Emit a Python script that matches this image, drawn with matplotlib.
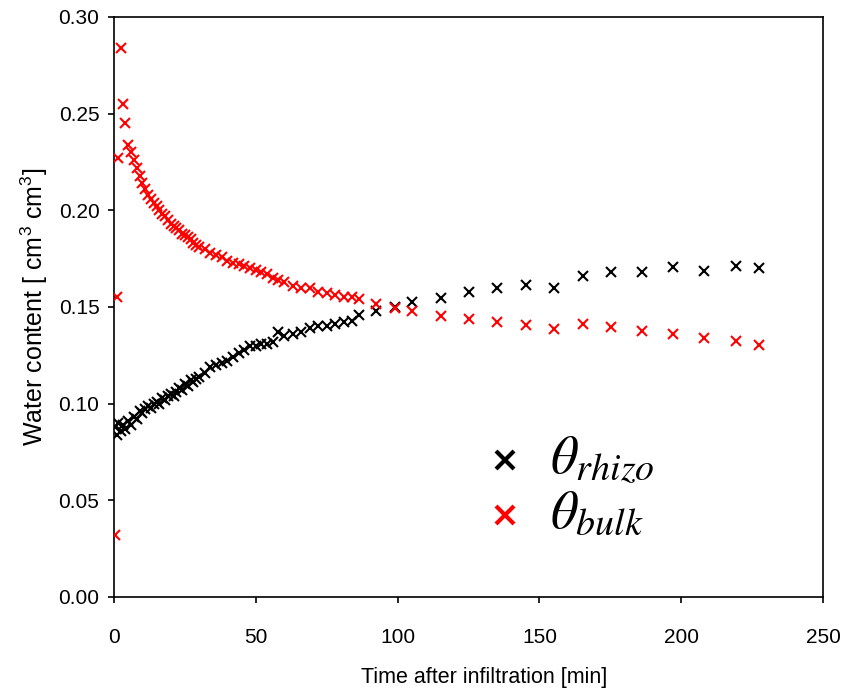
import matplotlib
matplotlib.use("Agg")
import matplotlib.pyplot as plt

plt.rcParams['font.family'] = ['Liberation Sans', 'DejaVu Sans']
plt.rcParams['mathtext.fontset'] = 'stix'

time_min = [0.5, 1, 1.5, 2.5, 3.3, 4, 5, 6, 7, 8, 9, 10, 11, 12, 13, 14, 15, 16, 17, 18,
            19, 20, 21, 22, 23, 24, 25, 26, 27, 28, 29, 30, 32, 34, 36, 38, 40, 42, 44, 46,
            48, 50, 52, 54, 56, 58, 60, 63, 66, 69, 72, 75, 78, 81, 84, 86.5,
            92.3, 99.1, 105.2, 115.2, 125.2, 135.2, 145.2, 155.1, 165.2, 175.2, 186.3,
            197.2, 208.1, 219.2, 227.3]

theta_bulk = [0.032, 0.155, 0.227, 0.284, 0.255, 0.245, 0.234, 0.230, 0.226, 0.222,
              0.218, 0.214, 0.211, 0.208, 0.206, 0.204, 0.202, 0.200, 0.198, 0.197,
              0.195, 0.193, 0.192, 0.191, 0.190, 0.188, 0.187, 0.186, 0.185, 0.183,
              0.182, 0.181, 0.180, 0.178, 0.177, 0.176, 0.174, 0.173, 0.172, 0.171,
              0.170, 0.169, 0.168, 0.167, 0.165, 0.164, 0.163, 0.161, 0.160, 0.160,
              0.158, 0.157, 0.156, 0.155, 0.155, 0.154,
              0.1514, 0.1497, 0.1481, 0.1453, 0.1438, 0.1424, 0.1405, 0.1385, 0.1414,
              0.1395, 0.1378, 0.1359, 0.1342, 0.1324, 0.1305]

theta_rhizo = [0.088, 0.084, 0.090, 0.086, 0.089, 0.087, 0.091, 0.089, 0.093, 0.092,
               0.096, 0.095, 0.097, 0.099, 0.098, 0.100, 0.101, 0.100, 0.103, 0.102,
               0.104, 0.105, 0.104, 0.106, 0.108, 0.107, 0.110, 0.109, 0.112, 0.111,
               0.113, 0.114, 0.116, 0.119, 0.120, 0.121, 0.122, 0.124, 0.126, 0.128,
               0.130, 0.130, 0.131, 0.131, 0.132, 0.137, 0.135, 0.136, 0.137, 0.139,
               0.140, 0.140, 0.141, 0.142, 0.143, 0.146,
               0.1479, 0.1500, 0.1527, 0.1548, 0.1576, 0.1597, 0.1614, 0.1600, 0.1660,
               0.1679, 0.1683, 0.1707, 0.1686, 0.1710, 0.1703]

x_ticks = [0, 50, 100, 150, 200, 250]
y_ticks = [0.00, 0.05, 0.10, 0.15, 0.20, 0.25, 0.30]
series_labels = [r'$\theta_{rhizo}$', r'$\theta_{bulk}$']
series_colors = ['black', '#ff0000']

fig = plt.figure(figsize=(8.44, 6.94), dpi=100)
ax = fig.add_axes([114/844, 97/694, 709/844, 580/694])

ax.plot(time_min, theta_rhizo, linestyle='none', marker='x', color=series_colors[0],
        markersize=7, markeredgewidth=1.5, zorder=3)
ax.plot(time_min, theta_bulk, linestyle='none', marker='x', color=series_colors[1],
        markersize=7, markeredgewidth=1.5, zorder=3)

ax.set_xlim(0, 250)
ax.set_ylim(0, 0.30)
ax.set_xticks(x_ticks)
ax.set_yticks(y_ticks)
ax.set_xticklabels([str(v) for v in x_ticks])
ax.set_yticklabels([f"{v:.2f}" for v in y_ticks])
ax.tick_params(axis='both', direction='out', length=4.5, width=1.2, labelsize=15)
ax.tick_params(axis='x', pad=18)
ax.tick_params(axis='y', pad=6)
for s in ax.spines.values():
    s.set_linewidth(1.2)

ax.set_xlabel('Time after infiltration [min]', fontsize=15.5)
ax.xaxis.set_label_coords(0.5226, -0.138)
ax.xaxis.label.set_va('center')
ax.set_ylabel(r'Water content [ cm$\mathregular{^3}$ cm$\mathregular{^3}$]', fontsize=18, labelpad=6)

# legend drawn manually
leg_marker_y = [0.236, 0.141]
leg_text_y = [0.2155, 0.119]
for lab, col, my, ty in zip(series_labels, series_colors, leg_marker_y, leg_text_y):
    ax.plot([0.551], [my], transform=ax.transAxes, linestyle='none', marker='x',
            color=col, markersize=13, markeredgewidth=3, clip_on=False)
    ax.text(0.615, ty, lab, transform=ax.transAxes, fontsize=39, va='baseline',
            ha='left', color='black')

fig.savefig('out.png', dpi=100)
